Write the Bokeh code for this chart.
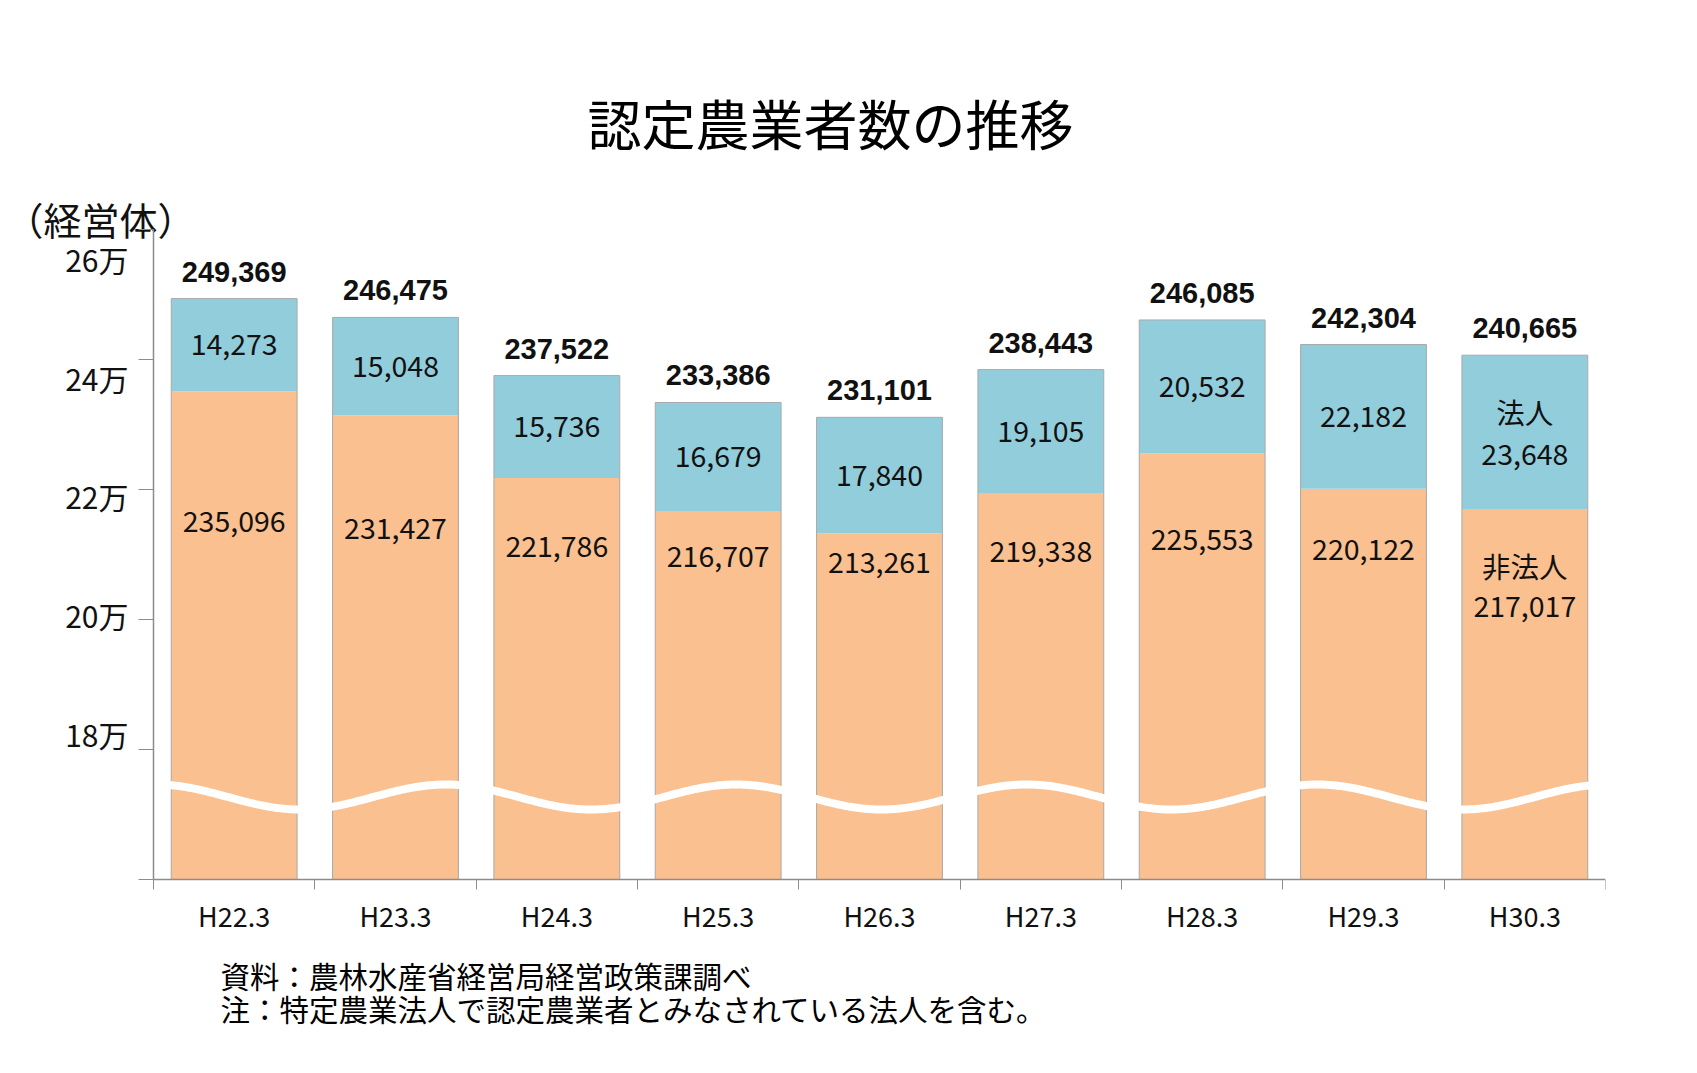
import numpy as np
from bokeh.plotting import figure
from bokeh.models import Range1d, LinearAxis, FixedTicker, ColumnDataSource
from bokeh.embed import file_html
from bokeh.resources import INLINE
from bokeh.core.properties import value

# ---- data ----
categories = ["H22.3", "H23.3", "H24.3", "H25.3", "H26.3", "H27.3", "H28.3", "H29.3", "H30.3"]
non_corporate = [235096, 231427, 221786, 216707, 213261, 219338, 225553, 220122, 217017]
corporate = [14273, 15048, 15736, 16679, 17840, 19105, 20532, 22182, 23648]
totals = [249369, 246475, 237522, 233386, 231101, 238443, 246085, 242304, 240665]
y_ticks = [160000, 180000, 200000, 220000, 240000, 260000]
y_tick_labels = ["", "18万", "20万", "22万", "24万", "26万"]
corp_prefix = ["", "", "", "", "", "", "", "", "法人\n"]
noncorp_prefix = ["", "", "", "", "", "", "", "", "非法人\n"]

title_text = "認定農業者数の推移"
unit_text = "（経営体）"
note1 = "資料：農林水産省経営局経営政策課調べ"
note2 = "注：特定農業法人で認定農業者とみなされている法人を含む。"

# ---- styling / layout constants ----
ORANGE = "#FAC08F"
BLUE = "#92CDDC"
AXIS = "#8c8c8c"
EDGE = "#a9a9a9"
INK = "#111111"
JP = "Noto Sans CJK JP"
BAR_W = 0.78
Y0, Y1 = 160000, 260000
LABEL_PULL, LABEL_ANCHOR = 0.707, 205839   # where the lower in-bar labels sit

W, H = 1680, 1050
FL, FR, FT, FB = 22, 1605, 0, 1030          # plot frame in canvas pixels
AX_X, AX_Y = 153, 879                       # pixel position of the value axis / baseline
n = len(categories)
XPX = (FR - AX_X) / n                       # pixels per category
YPX = 130 / 20000                           # pixels per unit on the value axis
LPX = 118.6 / 20000                         # spacing of the tick-label column


def ux(px):
    return (px - AX_X) / XPX


def vy(py):
    return Y0 + (AX_Y - py) / YPX


xc = [i + 0.5 for i in range(n)]
nc = np.array(non_corporate, dtype=float)
cp = np.array(corporate, dtype=float)

src = ColumnDataSource(dict(
    x=xc,
    nonc=nc,
    total=np.array(totals, dtype=float),
    corp_mid=nc + cp / 2,
    nonc_lab_y=nc - LABEL_PULL * (nc - LABEL_ANCHOR),
    base=[Y0] * n,
    cat=categories,
    total_lbl=[f"{v:,}" for v in totals],
    corp_lbl=[p + f"{v:,}" for p, v in zip(corp_prefix, corporate)],
    nonc_lbl=[p + f"{v:,}" for p, v in zip(noncorp_prefix, non_corporate)],
))

p = figure(width=W, height=H, title=None,
           x_range=Range1d(ux(FL), ux(FR)), y_range=Range1d(vy(FB), vy(FT)),
           x_axis_type=None, y_axis_type=None, output_backend="svg", toolbar_location=None,
           min_border_left=FL, min_border_right=W - FR, min_border_top=FT, min_border_bottom=H - FB)
p.outline_line_color = None
p.background_fill_color = "white"
p.border_fill_color = "white"

# second scale for the y tick-label column (slightly compressed, as in the original)
lab_y0 = 180000 - (FB - 737) / LPX
p.extra_y_ranges = {"lab": Range1d(lab_y0, lab_y0 + (FB - FT) / LPX)}

# x axis at the baseline: ticks at category boundaries
xax = LinearAxis(ticker=FixedTicker(ticks=xc, minor_ticks=list(range(n + 1))),
                 major_label_overrides={c: "" for c in xc},
                 fixed_location=Y0, bounds=(0, n),
                 major_tick_out=0, major_tick_in=0, minor_tick_out=10, minor_tick_in=0,
                 axis_line_color=AXIS, minor_tick_line_color=AXIS, axis_line_width=1.5,
                 major_label_standoff=0)
p.add_layout(xax, "below")

# y axis at x=0: ticks only
yax = LinearAxis(ticker=FixedTicker(ticks=y_ticks),
                 major_label_overrides={t: "" for t in y_ticks},
                 fixed_location=0, bounds=(Y0, Y1),
                 major_tick_out=15, major_tick_in=0, axis_line_color=AXIS,
                 major_tick_line_color=AXIS, axis_line_width=1.5, major_label_standoff=0)
p.add_layout(yax, "left")

# bars
p.vbar(x="x", width=BAR_W, bottom=Y0, top="nonc", source=src, fill_color=ORANGE, line_color=None)
p.vbar(x="x", width=BAR_W, bottom="nonc", top="total", source=src, fill_color=BLUE, line_color=None)
p.vbar(x="x", width=BAR_W, bottom=Y0, top="total", source=src, fill_color=None,
       line_color=EDGE, line_width=1)

# axis-break wave
wx = np.linspace(0.08, n - 0.08, 800)
wy = 172692 + 1923 * np.cos(2 * np.pi * (wx - 0.012) / 1.80)
p.line(wx, wy, line_color="white", line_width=8)

# value labels
p.text(x="x", y="total", text="total_lbl", source=src, y_offset=-27,
       text_align="center", text_baseline="middle", text_font=value("Liberation Sans"),
       text_font_style="bold", text_font_size="29px", text_color=INK)
p.text(x="x", y="corp_mid", text="corp_lbl", source=src, text_align="center",
       text_baseline="middle", text_font=value(JP), text_font_size="28.5px",
       text_color=INK, text_line_height=1.0)
p.text(x="x", y="nonc_lab_y", text="nonc_lbl", source=src, y_offset=-15, text_align="center",
       text_baseline="top", text_font=value(JP), text_font_size="28.5px",
       text_color=INK, text_line_height=0.95)

# category labels under the baseline
p.text(x="x", y="base", text="cat", source=src, y_offset=36, text_align="center",
       text_baseline="middle", text_font=value(JP), text_font_size="27px", text_color=INK)

# y tick labels
p.text(x=[0] * (len(y_ticks) - 1), y=y_ticks[1:], text=y_tick_labels[1:], y_range_name="lab",
       x_offset=-25, y_offset=-4, text_align="right", text_baseline="middle",
       text_font=value(JP), text_font_size="30px", text_color=INK)

# title, unit, notes
p.text(x=[ux(830)], y=[vy(121.5)], text=[title_text], text_align="center", text_baseline="middle",
       text_font=value(JP), text_font_size="54px", text_color="#000000")
p.text(x=[ux(100)], y=[vy(218)], text=[unit_text], text_align="center", text_baseline="middle",
       text_font=value(JP), text_font_size="38px", text_color=INK)
p.text(x=[ux(220)] * 2, y=[vy(974.5), vy(1007.5)], text=[note1, note2], text_align="left",
       text_baseline="middle", text_font=value(JP), text_font_size="29.5px", text_color="#000000")

open("out.html", "w").write(file_html(p, INLINE))
